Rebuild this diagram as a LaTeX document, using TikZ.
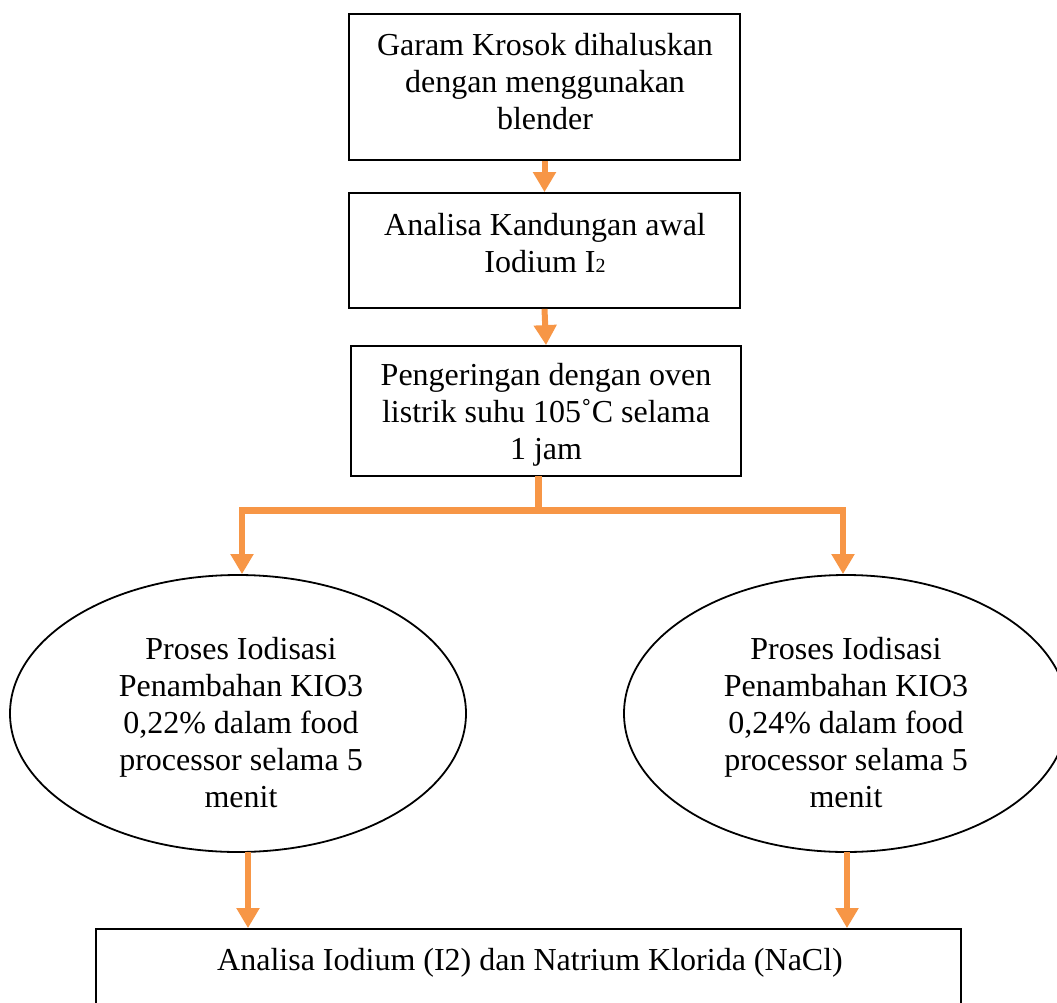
\documentclass[tikz,border=0pt]{standalone}
\usepackage{fontspec}
\setmainfont{Liberation Serif}
\usetikzlibrary{shapes.geometric,arrows.meta}
\definecolor{oarrow}{HTML}{F79646}
\tikzset{
  stepbox/.style={draw=black,line width=1.8pt,rectangle,inner sep=0pt},
  txt/.style={align=center,font=\fontsize{32}{37}\selectfont,inner sep=0pt},
  ovalbox/.style={draw=black,line width=1.8pt,ellipse,inner sep=0pt},
  flow/.style={draw=oarrow,line width=6pt,-{Triangle[length=20pt,width=22pt]}},
  bar/.style={draw=oarrow,line width=7pt},
}
\begin{document}
\begin{tikzpicture}[x=1pt,y=-1pt]
\useasboundingbox (0,0) rectangle (1057,1003);
% boxes
\node[stepbox,minimum width=391pt,minimum height=146pt] (b1) at (544.5,87) {};
\node[txt] (t1) at (545,82) {Garam Krosok dihaluskan\\dengan menggunakan\\blender};
\node[stepbox,minimum width=391pt,minimum height=115pt] (b2) at (544.5,250.5) {};
\node[txt] (t2) at (545,243) {Analisa Kandungan awal\\Iodium I{\fontsize{20}{20}\selectfont 2}};
\node[stepbox,minimum width=390pt,minimum height=130pt] (b3) at (546,411) {};
\node[txt] (t3) at (546,415) {Pengeringan dengan oven\\listrik suhu 105˚C selama\\1 jam};
% ellipses
\node[ovalbox,minimum width=456pt,minimum height=277pt] (eL) at (238,713.5) {};
\node[txt] (tL) at (241,723) {Proses Iodisasi\\Penambahan KIO3\\0,22\% dalam food\\processor selama 5\\menit};
\node[ovalbox,minimum width=444pt,minimum height=277pt] (eR) at (846,713.5) {};
\node[txt] (tR) at (846,723) {Proses Iodisasi\\Penambahan KIO3\\0,24\% dalam food\\processor selama 5\\menit};
% bottom box
\node[stepbox,minimum width=865pt,minimum height=100pt] (b4) at (528.5,979) {};
\node[txt] (t4) at (530,963) {Analisa Iodium (I2) dan Natrium Klorida (NaCl)};
% connectors
\draw[flow] (b1.south) -- (b2.north);
\draw[flow] (b2.south) -- (b3.north);
\coordinate (s3) at (538,476);
\coordinate (br) at (538,510);
\coordinate (bl) at (242,510);
\coordinate (brr) at (843,510);
\draw[bar] (s3) -- (br);
\draw[bar] ([xshift=-3pt]bl) -- ([xshift=3pt]brr);
\draw[flow] ([yshift=-3pt]bl) -- (bl |- eL.north);
\draw[flow] ([yshift=-3pt]brr) -- (brr |- eR.north);
\coordinate (oL) at (248,852);
\coordinate (oR) at (847,852);
\draw[flow] (oL) -- (oL |- b4.north);
\draw[flow] (oR) -- (oR |- b4.north);
\end{tikzpicture}
\end{document}
